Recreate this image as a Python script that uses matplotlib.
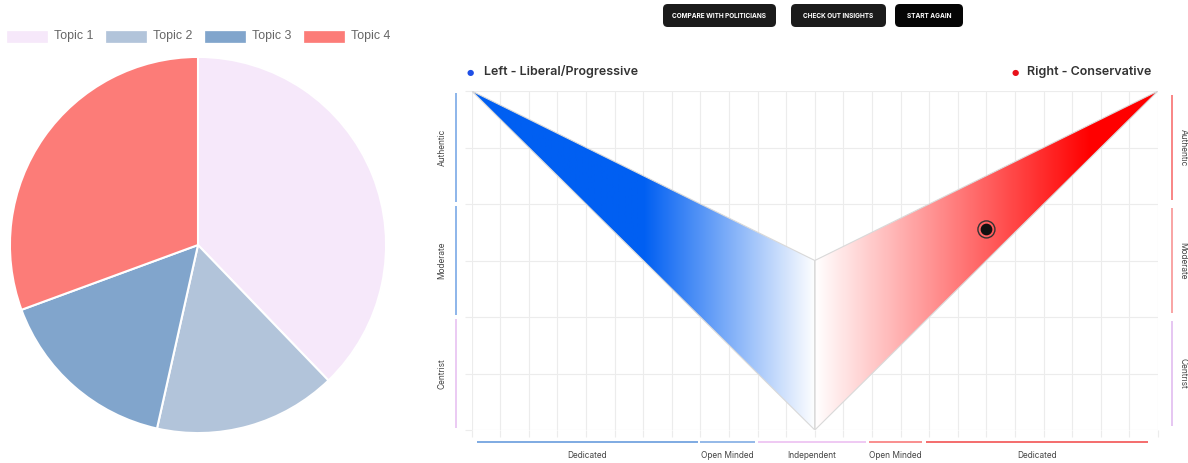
import numpy as np
import matplotlib
matplotlib.use("Agg")
import matplotlib.pyplot as plt
from matplotlib.patches import Polygon, FancyBboxPatch
from matplotlib.colors import to_rgb
import matplotlib.transforms as mtransforms

# ---------------- data ----------------
topics = ["Topic 1", "Topic 2", "Topic 3", "Topic 4"]
topic_values = [37.8, 15.7, 15.9, 30.6]

left_poly_x = [-12, 0, 0]
left_poly_y = [6, 3, 0]
right_poly_x = [0, 12, 0]
right_poly_y = [3, 6, 0]
user_x = [6]
user_y = [3.55]

y_labels = ["Authentic", "Moderate", "Centrist"]
y_ranges = [(4, 6), (2, 4), (0, 2)]
x_labels = ["Dedicated", "Open Minded", "Independent", "Open Minded", "Dedicated"]
x_ranges = [(-11.8, -4.1), (-4.0, -2.1), (-2.0, 1.8), (1.9, 3.75), (3.9, 11.65)]

buttons = ["COMPARE WITH POLITICIANS", "CHECK OUT INSIGHTS", "START AGAIN"]
header_left = "Left - Liberal/Progressive"
header_right = "Right - Conservative"

# ---------------- styles ----------------
topic_colors = ["#f6e8fa", "#b2c4da", "#81a5cc", "#fc7c78"]
W, H = 1188, 463
fig = plt.figure(figsize=(W / 100, H / 100), dpi=100)
fig.patch.set_facecolor("white")


def fx(px):
    return px / W


def fy(py):
    return 1 - py / H


# ---------------- pie ----------------
cx, cy, r = 198, 245, 189
pax = fig.add_axes([fx(cx - r), fy(cy + r), 2 * r / W, 2 * r / H])
pax.pie(topic_values, colors=topic_colors, startangle=90, counterclock=False,
        wedgeprops=dict(edgecolor="white", linewidth=1.5))
pax.set_xlim(-1.005, 1.005)
pax.set_ylim(-1.005, 1.005)
pax.set_aspect("auto")
pax.axis("off")

# pie legend
leg_box_x = [7, 106, 205, 304]
for name, col, bx in zip(topics, topic_colors, leg_box_x):
    fig.patches.append(plt.Rectangle((fx(bx), fy(42)), 40 / W, 11 / H,
                                     transform=fig.transFigure, facecolor=col,
                                     edgecolor=col, linewidth=0.5))
    fig.text(fx(bx + 47), fy(36.5), name, fontsize=8.9, color="#666666",
             family="Liberation Sans", va="center", ha="left")

# ---------------- spectrum chart ----------------
x0, x1, y0, y1 = 471.7, 1158, 91, 430
ax = fig.add_axes([fx(x0), fy(y1), (x1 - x0) / W, (y1 - y0) / H])
ax.set_xlim(-12, 12)
ax.set_ylim(0, 6)
ax.set_xticks(np.arange(-12, 13, 1))
ax.set_yticks(np.arange(0, 7, 1))
ax.grid(True, color="#ececec", linewidth=0.8, zorder=0)
ax.tick_params(length=5, color="#ececec", width=0.8, labelbottom=False, labelleft=False)
for s in ax.spines.values():
    s.set_visible(False)
ax.set_axisbelow(True)

blue = np.array(to_rgb("#005ff2"))
red = np.array(to_rgb("#ff0000"))
white = np.array([1.0, 1.0, 1.0])

n = 400
t = np.linspace(0, 1, n)
# left gradient: solid blue until halfway, then to white
wl = np.clip((t - 0.5) / 0.5, 0, 1)[:, None]
left_img = (blue * (1 - wl) + white * wl)[None, :, :]
# right gradient: white to red
wr = np.clip(t / 0.8, 0, 1)[:, None]
right_img = (white * (1 - wr) + red * wr)[None, :, :]

for px_, py_, img in [(left_poly_x, left_poly_y, left_img), (right_poly_x, right_poly_y, right_img)]:
    poly = Polygon(np.column_stack([px_, py_]), closed=True, facecolor="none",
                   edgecolor="#d9d9d9", linewidth=0.8, zorder=3)
    ax.add_patch(poly)
    im = ax.imshow(img, extent=[min(px_), max(px_), min(py_), max(py_)],
                   aspect="auto", zorder=2, interpolation="bilinear")
    im.set_clip_path(poly)

ax.set_xlim(-12, 12)
ax.set_ylim(0, 6)

# user point
ax.scatter(user_x, user_y, s=150, facecolor="none", edgecolor="#333333", linewidth=1.0, zorder=5)
ax.scatter(user_x, user_y, s=55, color="#111111", zorder=6)

# side bars (left and right)
trans_y = mtransforms.blended_transform_factory(ax.transAxes, ax.transData)
axw = x1 - x0
axh = y1 - y0
left_cols = ["#8db6ea", "#8db6ea", "#ebcaf3"]
right_cols = ["#f98585", "#f9a4a4", "#e6c6f2"]
for (lo, hi), lab, lc, rc in zip(y_ranges, y_labels, left_cols, right_cols):
    ax.plot([(456 - x0) / axw] * 2, [lo + 0.04, hi - 0.04], color=lc, lw=1.4,
            transform=trans_y, clip_on=False, solid_capstyle="butt")
    ax.plot([(1172 - x0) / axw] * 2, [lo + 0.07, hi - 0.07], color=rc, lw=1.4,
            transform=trans_y, clip_on=False, solid_capstyle="butt")
    ax.text((442 - x0) / axw, (lo + hi) / 2, lab, rotation=90, transform=trans_y,
            ha="center", va="center", fontsize=6, color="#444444", family="Inter")
    ax.text((1183 - x0) / axw, (lo + hi) / 2, lab, rotation=-90, transform=trans_y,
            ha="center", va="center", fontsize=6, color="#444444", family="Inter",
            clip_on=False)

# bottom bars
trans_x = mtransforms.blended_transform_factory(ax.transData, ax.transAxes)
bot_cols = ["#7eaae2", "#94b9e8", "#efc9f3", "#f98e8e", "#f46c6c"]
for (lo, hi), lab, c in zip(x_ranges, x_labels, bot_cols):
    ax.plot([lo, hi], [(y1 - 442) / axh] * 2, color=c, lw=1.4,
            transform=trans_x, clip_on=False, solid_capstyle="butt")
    ax.text((lo + hi) / 2, (y1 - 455) / axh, lab, transform=trans_x,
            ha="center", va="center", fontsize=6, color="#444444", family="Inter")

# headers
fig.text(fx(470), fy(72), "\u25CF", color="#1f4fe6", fontsize=6, ha="center", va="center",
         family="DejaVu Sans")
fig.text(fx(484), fy(72), header_left, color="#333333", fontsize=9, ha="left", va="center",
         family="Inter", fontweight="semibold")
fig.text(fx(1015), fy(72), "\u25CF", color="#e8101a", fontsize=6, ha="center", va="center",
         family="DejaVu Sans")
fig.text(fx(1027), fy(72), header_right, color="#333333", fontsize=9, ha="left", va="center",
         family="Inter", fontweight="semibold")

# buttons
btn_x = [(663, 776), (791, 886), (895, 963)]
btn_cols = ["#1b1b1b", "#1b1b1b", "#050505"]
for (bx0, bx1), label, bc in zip(btn_x, buttons, btn_cols):
    p = FancyBboxPatch((fx(bx0), fy(27)), (bx1 - bx0) / W, 23 / H,
                       boxstyle="round,pad=0,rounding_size=0.004",
                       transform=fig.transFigure, facecolor=bc, edgecolor="none",
                       mutation_aspect=W / H)
    fig.patches.append(p)
    fig.text(fx((bx0 + bx1) / 2), fy(15.5), label, color="white", fontsize=4.7,
             ha="center", va="center", family="Inter", fontweight="bold")

fig.savefig("out.png", dpi=100, facecolor="white")
